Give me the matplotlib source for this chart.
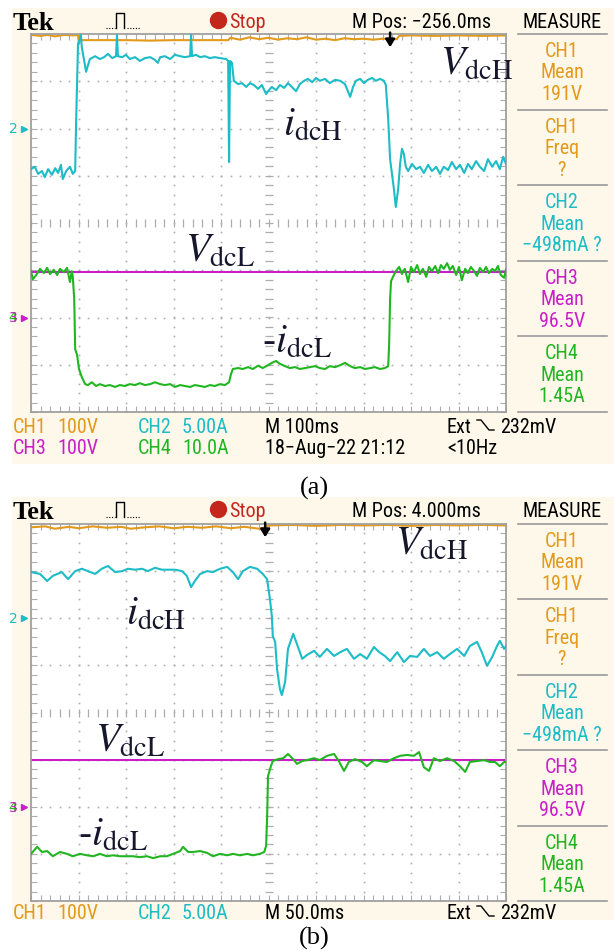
import numpy as np
import matplotlib.pyplot as plt
from matplotlib.lines import Line2D
from matplotlib.patches import Rectangle
from matplotlib.ticker import MultipleLocator

plt.rcParams['mathtext.fontset'] = 'stix'

# Datos leidos de las dos capturas (divisiones de pantalla: x 0..10, y -4..4)
# (a) 100 ms/div
ch1_a_x = [0, 0.2, 0.35, 0.5, 0.7, 0.9, 0.99, 1.01, 1.03, 1.5,
           2.0, 2.5, 3.0, 3.5, 4.0, 4.15, 4.2, 4.4, 4.6, 4.8,
           5.0, 5.2, 5.4, 5.6, 5.8, 6.0, 6.2, 6.4, 6.6, 6.8,
           7.0, 7.2, 7.4, 7.7, 7.75, 8.0, 8.5, 9.0, 9.5, 10]
ch1_a_y = [3.98, 3.96, 3.98, 3.95, 3.98, 3.97, 3.98, 3.79, 3.87, 3.87,
           3.87, 3.86, 3.87, 3.87, 3.87, 3.87, 3.92, 3.88, 3.93, 3.89,
           3.92, 3.88, 3.91, 3.89, 3.93, 3.88, 3.90, 3.87, 3.91, 3.89,
           3.90, 3.88, 3.90, 3.89, 3.96, 3.97, 3.96, 3.97, 3.96, 3.97]

ch2_a_x = [0, 0.08, 0.15, 0.23, 0.29, 0.36, 0.44, 0.51, 0.57, 0.63,
           0.67, 0.74, 0.82, 0.88, 0.93, 0.95, 0.99, 1.03, 1.05, 1.07,
           1.12, 1.16, 1.20, 1.24, 1.35, 1.45, 1.54, 1.62, 1.71, 1.79,
           1.81, 1.83, 1.92, 2.00, 2.08, 2.19, 2.29, 2.40, 2.51, 2.61,
           2.67, 2.72, 2.82, 2.93, 3.03, 3.14, 3.24, 3.35, 3.37, 3.39,
           3.47, 3.56, 3.66, 3.77, 3.87, 3.98, 4.11, 4.15, 4.17, 4.19,
           4.23, 4.27, 4.36, 4.44, 4.53, 4.61, 4.69, 4.78, 4.86, 4.95,
           4.99, 5.07, 5.16, 5.24, 5.33, 5.41, 5.49, 5.58, 5.66, 5.75,
           5.83, 5.92, 6.00, 6.08, 6.19, 6.29, 6.40, 6.51, 6.61, 6.72,
           6.78, 6.84, 6.93, 7.01, 7.09, 7.18, 7.26, 7.35, 7.43, 7.47,
           7.52, 7.56, 7.60, 7.64, 7.68, 7.73, 7.77, 7.81, 7.85, 7.89,
           7.94, 8.02, 8.11, 8.19, 8.27, 8.36, 8.44, 8.53, 8.61, 8.69,
           8.78, 8.86, 8.95, 9.03, 9.12, 9.20, 9.28, 9.37, 9.45, 9.54,
           9.62, 9.71, 9.79, 9.87, 9.94, 10.0]
ch2_a_y = [1.14, 1.19, 1.04, 1.10, 0.97, 1.14, 1.02, 1.16, 1.06, 1.23,
           0.93, 1.10, 1.19, 1.04, 1.10, 2.14, 3.79, 3.89, 3.98, 3.72,
           3.43, 3.20, 3.34, 3.47, 3.53, 3.47, 3.51, 3.58, 3.49, 3.53,
           3.98, 3.53, 3.51, 3.56, 3.47, 3.51, 3.43, 3.49, 3.51, 3.45,
           3.39, 3.51, 3.53, 3.47, 3.56, 3.53, 3.51, 3.53, 3.98, 3.53,
           3.56, 3.51, 3.53, 3.49, 3.51, 3.49, 3.47, 3.43, 1.29, 3.43,
           3.39, 3.01, 2.94, 2.96, 2.88, 2.96, 2.92, 2.84, 2.92, 2.73,
           2.79, 2.88, 2.81, 2.92, 2.86, 2.96, 2.88, 2.79, 2.94, 3.01,
           3.05, 2.98, 3.07, 3.01, 3.05, 2.96, 3.03, 3.01, 2.94, 2.67,
           2.88, 3.01, 3.05, 2.96, 3.03, 3.07, 3.01, 3.05, 3.01, 2.92,
           2.20, 1.35, 1.04, 0.72, 0.34, 0.72, 1.25, 1.57, 1.46, 1.19,
           1.10, 1.25, 1.14, 1.19, 1.06, 1.23, 1.10, 1.19, 1.04, 1.19,
           1.12, 1.29, 1.14, 1.23, 1.06, 1.25, 1.14, 1.31, 1.19, 1.10,
           1.35, 1.19, 1.31, 1.14, 1.40, 1.25]

ch3_a_x = [0, 10]
ch3_a_y = [-1.04, -1.04]

ch4_a_x = [0, 0.04, 0.11, 0.19, 0.27, 0.34, 0.40, 0.48, 0.55, 0.61,
           0.69, 0.76, 0.82, 0.86, 0.88, 0.91, 0.93, 0.97, 1.01, 1.07,
           1.14, 1.20, 1.28, 1.37, 1.45, 1.56, 1.66, 1.77, 1.87, 1.98,
           2.08, 2.19, 2.29, 2.40, 2.51, 2.61, 2.72, 2.82, 2.93, 3.03,
           3.14, 3.24, 3.35, 3.45, 3.56, 3.66, 3.77, 3.87, 3.98, 4.08,
           4.17, 4.21, 4.25, 4.36, 4.46, 4.57, 4.67, 4.78, 4.88, 4.99,
           5.07, 5.16, 5.24, 5.35, 5.45, 5.56, 5.66, 5.77, 5.87, 5.98,
           6.08, 6.19, 6.29, 6.40, 6.51, 6.61, 6.72, 6.82, 6.93, 7.03,
           7.14, 7.24, 7.35, 7.45, 7.52, 7.54, 7.56, 7.58, 7.62, 7.68,
           7.75, 7.81, 7.87, 7.94, 8.00, 8.06, 8.13, 8.19, 8.25, 8.32,
           8.38, 8.44, 8.51, 8.57, 8.63, 8.69, 8.76, 8.82, 8.88, 8.95,
           9.01, 9.07, 9.14, 9.20, 9.26, 9.33, 9.39, 9.45, 9.52, 9.58,
           9.64, 9.71, 9.77, 9.83, 9.89, 9.96, 10.0]
ch4_a_y = [-1.02, -1.19, -1.10, -0.97, -1.06, -0.95, -1.08, -0.99, -1.10, -0.97,
           -1.04, -0.95, -1.25, -1.02, -1.14, -1.61, -2.67, -2.79, -3.09, -3.26,
           -3.41, -3.43, -3.37, -3.45, -3.41, -3.45, -3.43, -3.47, -3.43, -3.45,
           -3.41, -3.43, -3.39, -3.43, -3.41, -3.37, -3.41, -3.43, -3.41, -3.47,
           -3.43, -3.45, -3.47, -3.43, -3.45, -3.47, -3.43, -3.45, -3.41, -3.43,
           -3.37, -3.20, -3.09, -3.07, -3.09, -3.05, -3.09, -3.02, -3.07, -3.01,
           -2.96, -2.92, -2.98, -3.03, -3.07, -3.05, -3.09, -3.07, -3.05, -3.03,
           -3.07, -3.09, -3.03, -3.05, -3.01, -2.96, -3.03, -3.07, -3.05, -3.09,
           -3.07, -3.05, -3.09, -3.07, -3.03, -2.56, -1.61, -1.23, -1.14, -1.02,
           -0.93, -1.08, -0.97, -1.25, -0.93, -1.04, -0.89, -1.08, -0.97, -1.14,
           -0.93, -1.02, -0.91, -1.06, -0.89, -0.97, -0.85, -0.99, -0.91, -1.10,
           -0.93, -1.21, -0.97, -1.06, -0.93, -1.02, -1.12, -0.95, -1.04, -0.93,
           -1.06, -0.97, -1.02, -0.91, -1.10, -1.16, -0.99]

# (b) 50 ms/div
ch1_b_x = [0, 0.3, 0.5, 0.8, 1.0, 1.3, 1.6, 1.9, 2.1, 2.4,
           2.7, 3.0, 3.3, 3.6, 3.9, 4.2, 4.5, 4.8, 4.95, 5.0,
           5.5, 6.0, 6.5, 7.0, 7.5, 8.0, 8.5, 9.0, 9.5, 10]
ch1_b_y = [3.93, 3.95, 3.90, 3.94, 3.91, 3.95, 3.92, 3.94, 3.90, 3.93,
           3.95, 3.91, 3.94, 3.92, 3.95, 3.91, 3.94, 3.90, 3.93, 3.97,
           3.98, 3.96, 3.98, 3.97, 3.98, 3.96, 3.98, 3.97, 3.98, 3.97]

ch2_b_x = [0, 0.19, 0.34, 0.46, 0.65, 0.78, 0.93, 1.07, 1.20, 1.35,
           1.49, 1.62, 1.77, 1.92, 2.04, 2.19, 2.34, 2.46, 2.61, 2.76,
           2.88, 3.03, 3.18, 3.28, 3.37, 3.45, 3.56, 3.71, 3.83, 3.98,
           4.13, 4.25, 4.36, 4.46, 4.61, 4.76, 4.88, 4.97, 5.03, 5.07,
           5.09, 5.14, 5.18, 5.24, 5.28, 5.35, 5.41, 5.52, 5.60, 5.71,
           5.81, 5.96, 6.08, 6.23, 6.38, 6.51, 6.65, 6.80, 6.93, 7.07,
           7.22, 7.33, 7.45, 7.56, 7.71, 7.85, 7.98, 8.13, 8.27, 8.40,
           8.55, 8.69, 8.82, 8.97, 9.12, 9.24, 9.39, 9.49, 9.60, 9.71,
           9.81, 9.87, 9.96, 10.0]
ch2_b_y = [2.98, 2.94, 2.79, 2.90, 2.98, 2.83, 3.00, 3.05, 3.00, 2.94,
           3.05, 3.11, 2.98, 3.00, 3.05, 3.03, 3.05, 3.00, 3.07, 3.03,
           3.03, 3.03, 3.00, 2.90, 2.66, 2.79, 2.94, 3.00, 2.98, 3.05,
           3.09, 2.98, 2.83, 3.00, 3.09, 3.05, 2.94, 2.83, 2.41, 2.05,
           1.62, 1.50, 0.92, 0.50, 0.37, 0.65, 1.35, 1.67, 1.45, 1.14,
           1.22, 1.31, 1.18, 1.35, 1.20, 1.28, 1.35, 1.14, 1.24, 1.14,
           1.39, 1.28, 1.20, 1.09, 1.28, 1.07, 1.20, 1.18, 1.35, 1.20,
           1.28, 1.14, 1.24, 1.35, 1.20, 1.41, 1.50, 1.28, 0.99, 1.18,
           1.41, 1.52, 1.35, 1.41]

ch3_b_x = [0, 10]
ch3_b_y = [-1.01, -1.01]

ch4_b_x = [0, 0.13, 0.23, 0.34, 0.46, 0.61, 0.76, 0.88, 1.03, 1.18,
           1.31, 1.45, 1.60, 1.73, 1.87, 2.02, 2.15, 2.29, 2.44, 2.57,
           2.72, 2.86, 2.99, 3.14, 3.20, 3.31, 3.41, 3.56, 3.71, 3.83,
           3.98, 4.13, 4.25, 4.40, 4.55, 4.67, 4.82, 4.91, 4.95, 4.97,
           4.99, 5.05, 5.09, 5.20, 5.31, 5.41, 5.52, 5.60, 5.71, 5.81,
           5.96, 6.08, 6.23, 6.38, 6.48, 6.59, 6.69, 6.82, 6.97, 7.07,
           7.22, 7.35, 7.49, 7.64, 7.77, 7.92, 8.06, 8.17, 8.27, 8.38,
           8.48, 8.61, 8.76, 8.91, 9.03, 9.14, 9.24, 9.39, 9.54, 9.66,
           9.77, 9.87, 9.96, 10.0]
ch4_b_y = [-3.00, -2.85, -2.96, -2.94, -3.05, -2.96, -3.00, -3.05, -3.00, -3.03,
           -3.05, -3.00, -3.05, -3.03, -3.05, -3.05, -3.05, -3.07, -3.05, -3.09,
           -3.05, -3.05, -3.00, -2.94, -2.85, -2.96, -2.96, -2.94, -2.98, -3.05,
           -3.00, -3.03, -3.00, -3.03, -3.00, -3.03, -3.00, -2.96, -2.83, -2.26,
           -1.35, -1.14, -1.03, -0.99, -0.97, -0.88, -0.99, -1.09, -1.03, -1.01,
           -0.97, -1.01, -0.92, -0.88, -1.03, -1.24, -1.05, -0.99, -1.05, -1.14,
           -1.01, -1.03, -1.05, -0.97, -0.92, -0.90, -0.92, -0.84, -1.16, -1.24,
           -0.97, -1.03, -0.97, -1.03, -1.14, -1.26, -1.05, -1.03, -1.01, -1.05,
           -1.05, -1.14, -1.05, -1.05]

# textos del osciloscopio
measure_a = [('CH1', 'Mean', '191V'), ('CH1', 'Freq', '?'), ('CH2', 'Mean', '\u2212498mA ?'),
             ('CH3', 'Mean', '96.5V'), ('CH4', 'Mean', '1.45A')]
measure_b = measure_a
mpos_a = 'M Pos: \u2212256.0ms'
mpos_b = 'M Pos: 4.000ms'
trig_a = 7.56
trig_b = 4.93

W, H = 614, 953
ORANGE = '#e39a1b'
CYAN = '#1dbcc6'
MAGENTA = '#c81fc8'
GREEN = '#21b621'
CREAM = '#fdf8ea'
GRAY = '#adadad'
RED = '#c4281c'
INK = '#16162c'
SCOPE_FONT = ['Roboto Condensed', 'Liberation Sans', 'DejaVu Sans']
MCOL = [ORANGE, ORANGE, CYAN, MAGENTA, GREEN]

fig = plt.figure(figsize=(W / 100, H / 100), dpi=100)


def fx(px):
    return px / W


def fy(py):
    return 1 - py / H


def stext(px, py, s, color='black', ha='left', size=14.5):
    fig.text(fx(px), fy(py), s, color=color, ha=ha, va='baseline', fontsize=size, family=SCOPE_FONT)


def label(px, py, s):
    fig.text(fx(px), fy(py), s, color=INK, fontsize=29, va='baseline')


def fline(xs, ys, **kw):
    fig.add_artist(Line2D([fx(v) for v in xs], [fy(v) for v in ys], **kw))


def scope(top, bot, dy, cream_bot, traces, trig, mpos, measure):
    # fondo crema
    fig.add_artist(Rectangle((fx(12), fy(cream_bot)), 1 - fx(12), fy(dy + 9) - fy(cream_bot),
                             color=CREAM, zorder=-5, lw=0))
    ax = fig.add_axes([fx(31), fy(bot), fx(506) - fx(31), fy(top) - fy(bot)])
    ax.set_xlim(0, 10)
    ax.set_ylim(-4, 4)
    for s in ax.spines.values():
        s.set_color('#a0a0a0')
        s.set_linewidth(1.3)
    ax.xaxis.set_major_locator(MultipleLocator(1))
    ax.xaxis.set_minor_locator(MultipleLocator(0.2))
    ax.yaxis.set_major_locator(MultipleLocator(1))
    ax.yaxis.set_minor_locator(MultipleLocator(0.2))
    ax.tick_params(which='both', direction='in', top=True, right=True, length=4,
                   labelbottom=False, labelleft=False, color=GRAY, width=0.8)
    # reticula punteada
    xd = np.arange(0, 10.01, 0.2)
    yd = np.arange(-4, 4.01, 0.2)
    for g in [1, 2, 3, 4, 6, 7, 8, 9]:
        ax.plot(np.full(len(yd), g), yd, ls='none', marker='s', ms=1.2, mew=0, color=GRAY)
    for g in [-3, -2, -1, 1, 2, 3]:
        ax.plot(xd, np.full(len(xd), g), ls='none', marker='s', ms=1.2, mew=0, color=GRAY)
    ax.plot(xd, np.zeros(len(xd)), ls='none', marker='|', ms=6, mew=0.9, color=GRAY)
    ax.plot(np.full(len(yd), 5), yd, ls='none', marker='_', ms=6, mew=0.9, color=GRAY)
    # trazas
    for x, y, c, z in traces:
        ax.plot(x, y, color=c, lw=1.5, zorder=z)
    # marcadores de canal
    tr = ax.get_yaxis_transform()
    ax.text(-0.038, 2.0, '2', transform=tr, color=CYAN, fontsize=10, ha='center', va='center')
    ax.plot([-0.014], [2.0], marker='>', ms=4.5, color=CYAN, transform=tr, clip_on=False)
    ax.text(-0.038, -2.0, '4', transform=tr, color=GREEN, fontsize=10, ha='center', va='center')
    ax.text(-0.038, -2.0, '3', transform=tr, color=MAGENTA, fontsize=10, ha='center', va='center')
    ax.plot([-0.014], [-2.0], marker='>', ms=4.5, color=MAGENTA, transform=tr, clip_on=False)
    # marca de disparo
    ax.annotate('', xy=(trig, 3.72), xytext=(trig, 4.03),
                arrowprops=dict(arrowstyle='-|>,head_width=0.28,head_length=0.45', color='black',
                                lw=1.8, shrinkA=0, shrinkB=0), annotation_clip=False)
    # cabecera
    fig.text(fx(13), fy(dy + 30), 'Tek', fontsize=19, fontweight='bold', family='Liberation Serif', va='baseline')
    fline([106, 115], [dy + 29, dy + 29], color='black', lw=0.8, ls=(0, (1, 1.5)))
    fline([116, 116, 124, 124], [dy + 29, dy + 14, dy + 14, dy + 29], color='black', lw=1.0)
    fline([127, 140], [dy + 29, dy + 29], color='black', lw=0.8, ls=(0, (1, 1.5)))
    fline([218], [dy + 21], marker='o', ms=11.5, color=RED, ls='none')
    stext(229, dy + 28, 'Stop', color=RED)
    stext(352, dy + 28, mpos)
    stext(562, dy + 28, 'MEASURE', ha='center')
    # columna de medidas
    step = (bot - top) / 5
    for k in range(6):
        fline([518, 607], [top + k * step] * 2, color='#9a9a9a', lw=1.2)
    for k, rows in enumerate(measure):
        for j, s in enumerate(rows):
            stext(562, top + k * step + 22 + j * 21.5, s, color=MCOL[k], ha='center')
    return ax


scope(35, 413, 0, 465,
      [(ch3_a_x, ch3_a_y, MAGENTA, 2), (ch1_a_x, ch1_a_y, ORANGE, 2),
       (ch4_a_x, ch4_a_y, GREEN, 3), (ch2_a_x, ch2_a_y, CYAN, 3)],
      trig_a, mpos_a, measure_a)
scope(525, 902, 489, 921,
      [(ch3_b_x, ch3_b_y, MAGENTA, 2), (ch1_b_x, ch1_b_y, ORANGE, 2),
       (ch4_b_x, ch4_b_y, GREEN, 3), (ch2_b_x, ch2_b_y, CYAN, 3)],
      trig_b, mpos_b, measure_b)

# pie de cada pantalla
for y0, rows in [(433, [(13, 'CH1', ORANGE), (57, '100V', ORANGE), (138, 'CH2', CYAN), (182, '5.00A', CYAN),
                        (265, 'M 100ms', 'black'), (447, 'Ext', 'black'), (500, '232mV', 'black')]),
                 (454, [(13, 'CH3', MAGENTA), (57, '100V', MAGENTA), (138, 'CH4', GREEN), (182, '10.0A', GREEN),
                        (265, '18\u2212Aug\u221222 21:12', 'black'), (447, '<10Hz', 'black')]),
                 (919, [(13, 'CH1', ORANGE), (57, '100V', ORANGE), (138, 'CH2', CYAN), (182, '5.00A', CYAN),
                        (265, 'M 50.0ms', 'black'), (447, 'Ext', 'black'), (500, '232mV', 'black')])]:
    for px, s, c in rows:
        stext(px, y0, s, color=c)
for yb in [433, 919]:
    fline([477, 481, 489, 494], [yb - 12, yb - 12, yb - 2, yb - 2], color='black', lw=1.0)

# etiquetas de las senales
label(440, 75, r'$V_{\rm dcH}$')
label(283, 136, r'$i_{\rm dcH}$')
label(185, 262, r'$V_{\rm dcL}$')
label(262, 353, r'$\text{-}i_{\rm dcL}$')
label(395, 555, r'$V_{\rm dcH}$')
label(126, 625, r'$i_{\rm dcH}$')
label(95, 752, r'$V_{\rm dcL}$')
label(78, 846, r'$\text{-}i_{\rm dcL}$')

fig.text(fx(314), fy(488), '(a)', fontsize=19, family='Liberation Serif', ha='center', va='center')
fig.text(fx(314), fy(938), '(b)', fontsize=19, family='Liberation Serif', ha='center', va='center')

fig.savefig('out.png', dpi=100, facecolor='white')
